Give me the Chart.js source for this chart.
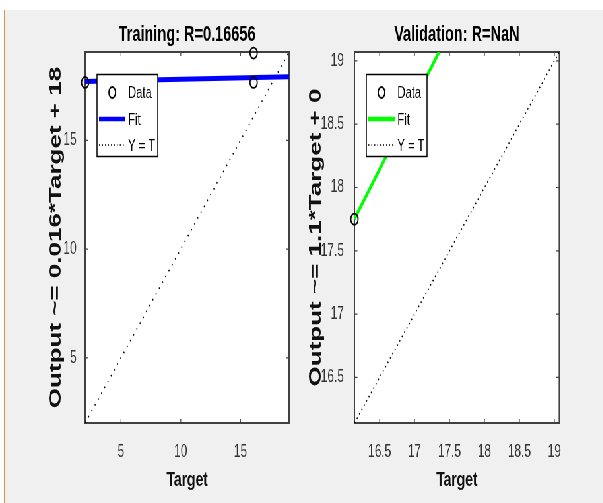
<!DOCTYPE html>
<html>
<head>
<meta charset="utf-8">
<script src="https://cdn.jsdelivr.net/npm/chart.js@4.4.1/dist/chart.umd.min.js"></script>
<style>
  html, body { margin: 0; padding: 0; width: 603px; height: 503px; overflow: hidden; background: #fff; }
  #figure { position: absolute; left: 4px; top: 10px; width: 599px; height: 493px; background: #f0f0f0; border-left: 1px solid #d8954f; box-sizing: border-box; }
  /* matlab figure was squeezed sideways, so draw wide and squeeze it too */
  #stretch { position: absolute; left: 0; top: 0; width: 914px; height: 503px; transform: scaleX(0.66); transform-origin: 0 0; }
  #stretch canvas { position: absolute; top: 0; }
</style>
</head>
<body>
<div id="figure"></div>
<div id="stretch">
  <canvas id="trainChart" width="455" height="503" style="left:0"></canvas>
  <canvas id="valChart" width="459" height="503" style="left:455px"></canvas>
</div>
<script>
const trainTargets = [2, 16.1, 16.1];
const trainOutputs = [17.67, 19.02, 17.67];
const trainFitX = [2, 19.07];
const trainFitY = [17.71, 17.93];
const trainLimits = [2, 19.07];
const trainTicks = [5, 10, 15];

const valTargets = [16.14];
const valOutputs = [17.75];
const valFitX = [16.14, 17.35];
const valFitY = [17.75, 19.07];
const valLimits = [16.14, 19.07];
const valTicks = [16.5, 17, 17.5, 18, 18.5, 19];

const legendLabels = ['Data', 'Fit', 'Y = T'];

Chart.defaults.font.family = "'Liberation Sans', Arial, sans-serif";
Chart.defaults.color = '#333';

const toPoints = (xs, ys) => xs.map((x, i) => ({x: x, y: ys[i]}));

// white axes, box on all sides and inward ticks
const axesBox = {
  id: 'axesBox',
  beforeDatasetsDraw(chart) {
    const {ctx, chartArea: a, scales} = chart;
    ctx.save();
    ctx.fillStyle = '#fff';
    ctx.fillRect(a.left, a.top, a.right - a.left, a.bottom - a.top);
    ctx.strokeStyle = '#404040';
    ctx.lineWidth = 1.2;
    ctx.beginPath();
    scales.x.ticks.forEach(t => {
      const px = scales.x.getPixelForValue(t.value);
      ctx.moveTo(px, a.bottom); ctx.lineTo(px, a.bottom - 4);
      ctx.moveTo(px, a.top); ctx.lineTo(px, a.top + 4);
    });
    scales.y.ticks.forEach(t => {
      const py = scales.y.getPixelForValue(t.value);
      ctx.moveTo(a.left, py); ctx.lineTo(a.left + 4.5, py);
      ctx.moveTo(a.right, py); ctx.lineTo(a.right - 4.5, py);
    });
    ctx.stroke();
    ctx.lineWidth = 2;
    ctx.strokeRect(a.left, a.top, a.right - a.left, a.bottom - a.top);
    ctx.restore();
  }
};

const boxLegend = {
  id: 'boxLegend',
  afterDraw(chart, args, opts) {
    const {ctx, chartArea: a} = chart;
    const x0 = a.left + 18, y0 = a.top + 22.5;
    const rows = [18, 44.5, 70.5];
    ctx.save();
    ctx.fillStyle = '#fff';
    ctx.strokeStyle = '#000';
    ctx.lineWidth = 1.5;
    ctx.fillRect(x0, y0, 92, 82);
    ctx.strokeRect(x0, y0, 92, 82);

    ctx.beginPath();
    ctx.ellipse(x0 + 23, y0 + rows[0], 5, 5.5, 0, 0, 2 * Math.PI);
    ctx.lineWidth = 1.8;
    ctx.stroke();

    ctx.beginPath();
    ctx.moveTo(x0 + 3, y0 + rows[1]);
    ctx.lineTo(x0 + 43, y0 + rows[1]);
    ctx.strokeStyle = opts.fitColor;
    ctx.lineWidth = 4.5;
    ctx.stroke();

    ctx.beginPath();
    ctx.setLineDash([1.5, 3]);
    ctx.moveTo(x0 + 3, y0 + rows[2]);
    ctx.lineTo(x0 + 43, y0 + rows[2]);
    ctx.strokeStyle = '#000';
    ctx.lineWidth = 1.4;
    ctx.stroke();
    ctx.setLineDash([]);

    ctx.font = "17px 'Liberation Sans', Arial, sans-serif";
    ctx.fillStyle = '#000';
    ctx.textBaseline = 'middle';
    legendLabels.forEach((t, i) => ctx.fillText(t, x0 + 47, y0 + rows[i] + 1));
    ctx.restore();
  }
};

function makeChart(id, cfg) {
  return new Chart(document.getElementById(id), {
    type: 'scatter',
    data: {
      datasets: [
        {
          label: legendLabels[0],
          data: toPoints(cfg.targets, cfg.outputs),
          pointRadius: 5.5,
          pointBorderWidth: 1.8,
          pointBorderColor: '#000',
          pointBackgroundColor: 'rgba(0,0,0,0)',
          clip: false
        },
        {
          label: legendLabels[1],
          data: toPoints(cfg.fitX, cfg.fitY),
          showLine: true,
          borderColor: cfg.fitColor,
          borderWidth: cfg.fitWidth,
          pointRadius: 0
        },
        {
          label: legendLabels[2],
          data: toPoints(cfg.limits, cfg.limits),
          showLine: true,
          borderColor: '#000',
          borderWidth: 1.6,
          borderDash: cfg.dash,
          pointRadius: 0
        }
      ]
    },
    options: {
      responsive: false,
      animation: false,
      events: [],
      layout: { padding: { left: 0, right: cfg.padRight, top: 0, bottom: 0 } },
      scales: {
        x: {
          type: 'linear',
          min: cfg.limits[0],
          max: cfg.limits[1],
          grid: { display: false },
          border: { display: false },
          afterBuildTicks: s => { s.ticks = cfg.ticks.map(v => ({value: v})); },
          afterFit: s => { s.height = 80; },
          ticks: { padding: 10, font: { size: 18 }, maxRotation: 0, autoSkip: false, callback: v => String(v) },
          title: { display: true, text: 'Target', color: '#111', font: { size: 21, weight: 'bold' }, padding: { top: 0, bottom: 10.5 } }
        },
        y: {
          type: 'linear',
          min: cfg.limits[0],
          max: cfg.limits[1],
          grid: { display: false },
          border: { display: false },
          afterBuildTicks: s => { s.ticks = cfg.ticks.map(v => ({value: v})); },
          afterFit: s => { s.width = cfg.yWidth; },
          ticks: { padding: cfg.yPad, font: { size: 18 }, autoSkip: false, callback: v => String(v) },
          title: { display: true, text: cfg.yTitle, color: '#111', font: { size: 26, weight: 'bold' }, padding: { top: cfg.yTitlePad, bottom: 0 } }
        }
      },
      plugins: {
        title: {
          display: true,
          text: cfg.title,
          fullSize: false,
          color: '#000',
          font: { size: 22, weight: 'bold' },
          padding: { top: 21.5, bottom: 4.1 }
        },
        legend: { display: false },
        tooltip: { enabled: false },
        boxLegend: { fitColor: cfg.fitColor }
      }
    },
    plugins: [axesBox, boxLegend]
  });
}

makeChart('trainChart', {
  title: 'Training: R=0.16656',
  yTitle: 'Output ~= 0.016*Target + 18',
  targets: trainTargets, outputs: trainOutputs,
  fitX: trainFitX, fitY: trainFitY,
  limits: trainLimits, ticks: trainTicks,
  fitColor: '#0000ff', fitWidth: 5, dash: [1.6, 6],
  yWidth: 129, yPad: 5, yTitlePad: 69.2, padRight: 17
});

makeChart('valChart', {
  title: 'Validation: R=NaN',
  yTitle: 'Output ~= 1.1*Target + 0',
  targets: valTargets, outputs: valOutputs,
  fitX: valFitX, fitY: valFitY,
  limits: valLimits, ticks: valTicks,
  fitColor: '#00ff00', fitWidth: 4, dash: [1.6, 4],
  yWidth: 82, yPad: 8, yTitlePad: 8.2, padRight: 66.6
});
</script>
</body>
</html>
